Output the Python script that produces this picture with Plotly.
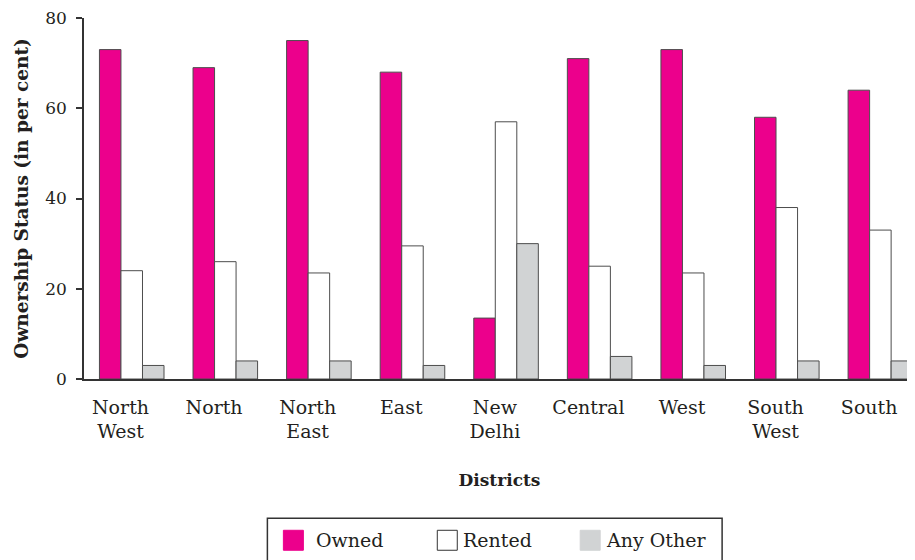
import plotly.graph_objects as go

districts = ["North<br>West", "North", "North<br>East", "East", "New<br>Delhi",
             "Central", "West", "South<br>West", "South"]
series_names = ["Owned", "Rented", "Any Other"]
owned = [73, 69, 75, 68, 13.5, 71, 73, 58, 64]
rented = [24, 26, 23.5, 29.5, 57, 25, 23.5, 38, 33]
any_other = [3, 4, 4, 3, 30, 5, 3, 4, 4]
y_ticks = [0, 20, 40, 60, 80]

colors = ["#EC008C", "#FFFFFF", "#D1D3D4"]
FONT = "DejaVu Serif"
TXT = "#231F20"

fig = go.Figure()
x_idx = list(range(len(districts)))
for name, vals, col in zip(series_names, [owned, rented, any_other], colors):
    fig.add_trace(go.Bar(
        x=x_idx, y=vals, name=name,
        marker=dict(color=col, line=dict(color="#4D4D4D", width=1)),
        showlegend=False,
    ))

# page body has an 8px margin: work in figure coordinates = screen - 8
OFF = 8
W, H = 915 - OFF, 560 - OFF
L, R, T = 83.5 - OFF, 0, 18 - OFF
B = H - (379.5 - OFF)
pw, ph = W - L - R, H - T - B

def px_x(x):
    return (x - OFF - L) / pw

def px_y(y):
    return (H - B - (y - OFF)) / ph

shapes = [dict(type="rect", xref="paper", yref="paper",
               x0=px_x(267), x1=px_x(722), y0=px_y(519), y1=px_y(575),
               line=dict(color="#333333", width=1.5), fillcolor="rgba(0,0,0,0)")]
swatch_x = [283, 437, 580]
text_x = [314, 461, 604]
annotations = []
for sx, tx, name, col in zip(swatch_x, text_x, series_names, colors):
    shapes.append(dict(type="rect", xref="paper", yref="paper",
                       x0=px_x(sx), x1=px_x(sx + 20), y0=px_y(531), y1=px_y(551),
                       fillcolor=col,
                       line=dict(color="#333333" if col == "#FFFFFF" else col, width=1)))
    annotations.append(dict(xref="paper", yref="paper", x=px_x(tx), y=px_y(541),
                            text=name, showarrow=False, xanchor="left", yanchor="middle",
                            font=dict(family=FONT, size=19, color=TXT)))

fig.update_layout(
    width=W, height=H,
    margin=dict(l=L, r=R, t=T, b=B, pad=0),
    paper_bgcolor="white", plot_bgcolor="white",
    barmode="group", bargap=0.31, bargroupgap=0,
    showlegend=False,
    shapes=shapes, annotations=annotations,
    font=dict(family=FONT, color=TXT),
)
LABEL_SHIFT = -0.12  # labels sit slightly left of group centres in the original
fig.update_xaxes(
    tickmode="array", tickvals=[i + LABEL_SHIFT for i in x_idx], ticktext=districts,
    range=[-0.51, 8.37], automargin=False,
    showline=True, linecolor="#333333", linewidth=1.5,
    showgrid=False, zeroline=False, ticks="",
    tickfont=dict(family=FONT, size=19, color=TXT),
    ticklabelstandoff=10, ticklabeloverflow="allow",
    title=dict(text="<b>Districts</b>", font=dict(family=FONT, size=17, color=TXT), standoff=33),
)
fig.update_yaxes(
    range=[0, 80], tickvals=y_ticks, automargin=False,
    showline=True, linecolor="#333333", linewidth=1.5,
    showgrid=False, zeroline=False,
    ticks="outside", ticklen=6, tickcolor="#333333", tickwidth=1.5,
    tickfont=dict(family=FONT, size=17, color=TXT),
    ticklabelstandoff=6, ticklabeloverflow="allow",
    title=dict(text="<b>Ownership Status (in per cent)</b>",
               font=dict(family=FONT, size=18.5, color=TXT), standoff=12),
)

fig.write_html("out.html")
